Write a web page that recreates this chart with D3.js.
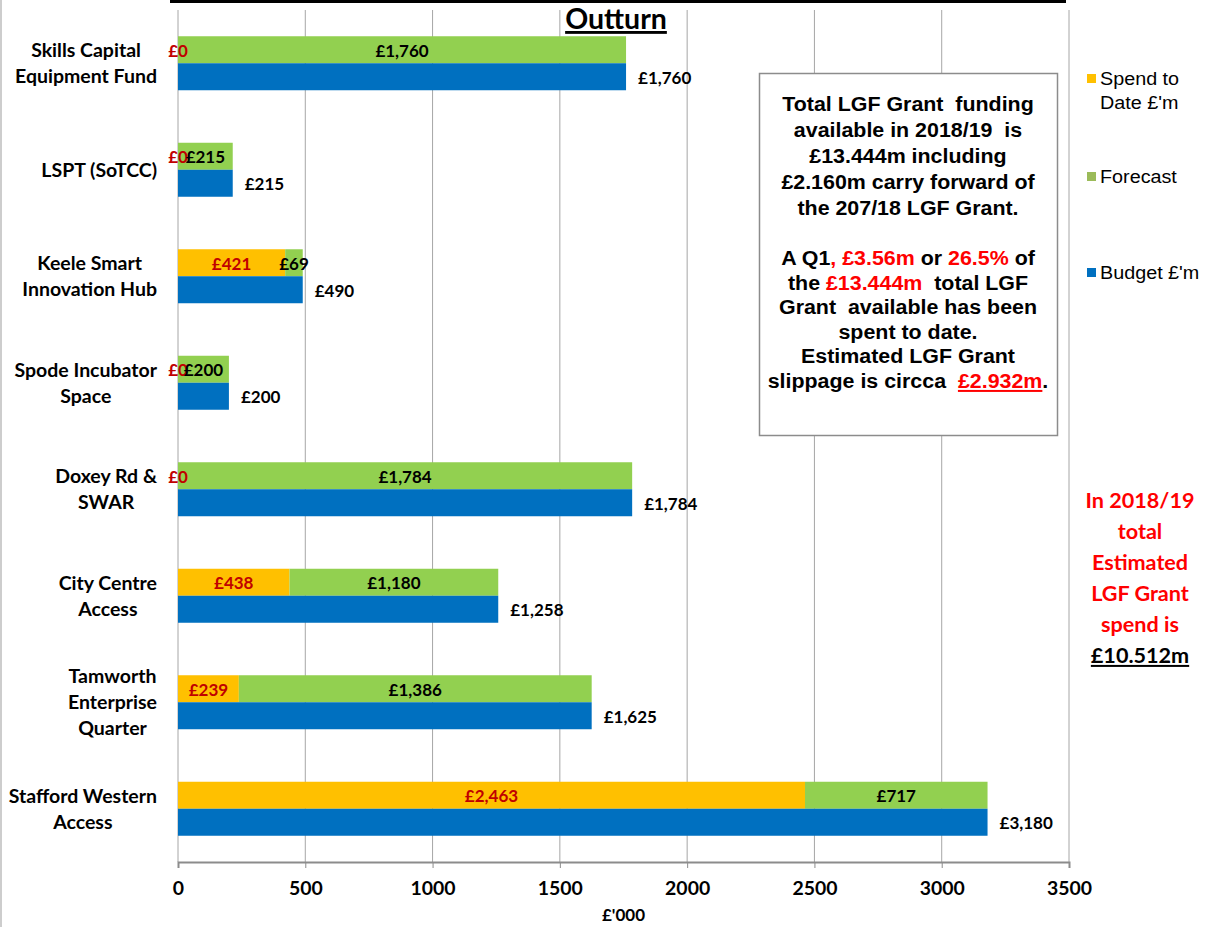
<!DOCTYPE html>
<html><head><meta charset="utf-8">
<script src="https://cdn.jsdelivr.net/npm/d3@7"></script>
<style>
body{margin:0;background:#fff;}
svg{display:block;}
</style></head>
<body>
<svg id="chart" width="1208" height="927"></svg>
<script>
const categories = [
  ["Skills Capital","Equipment Fund"],
  ["LSPT (SoTCC)"],
  ["Keele Smart","Innovation Hub"],
  ["Spode Incubator","Space"],
  ["Doxey Rd &","SWAR"],
  ["City Centre","Access"],
  ["Tamworth","Enterprise","Quarter"],
  ["Stafford Western","Access"]
];
const spend    = [0, 0, 421, 0, 0, 438, 239, 2463];
const forecast = [1760, 215, 69, 200, 1784, 820, 1386, 717];
const forecastLabels = ["£1,760","£215","£69","£200","£1,784","£1,180","£1,386","£717"];
const budget   = [1760, 215, 490, 200, 1784, 1258, 1625, 3180];
const xTicks = [0, 500, 1000, 1500, 2000, 2500, 3000, 3500];
const seriesNames = ["Spend to|Date £'m", "Forecast", "Budget £'m"];
const colors = {spend:"#FFC000", forecast:"#92D050", budget:"#0070C0"};

const svg = d3.select("#chart");
const fmt = d3.format(",");
const keys = categories.map((c,i)=>i);

const x = d3.scaleLinear().domain([0,3500]).range([178,1069]);
const y = d3.scaleBand().domain(keys).range([10,862]);
const sub = d3.scaleBand().domain(["stack","budget"]).range([0,y.bandwidth()])
  .paddingInner(0).paddingOuter((y.bandwidth()/27 - 2)/2);

// helper: text horizontally stretched around its anchor point
function stext(parent, px, py, sx){
  return parent.append("text").attr("transform",`translate(${px},${py}) scale(${sx},1)`).attr("x",0).attr("y",0);
}

// outer frame bits
svg.append("line").attr("x1",1).attr("x2",1).attr("y1",0).attr("y2",927).attr("stroke","#bdbdbd").attr("stroke-width",1.5);
svg.append("line").attr("x1",170).attr("x2",1066).attr("y1",1.5).attr("y2",1.5).attr("stroke","#000").attr("stroke-width",3);

// gridlines
svg.append("g").selectAll("line").data(xTicks).join("line")
  .attr("x1",d=>x(d)).attr("x2",d=>x(d)).attr("y1",10).attr("y2",862)
  .attr("stroke","#a6a6a6").attr("stroke-width",1);

// axis
const axis = svg.append("g").attr("transform","translate(0,862)")
  .call(d3.axisBottom(x).tickValues(xTicks).tickSize(6).tickPadding(12).tickFormat(d=>d));
axis.select(".domain").attr("stroke","#8c8c8c").attr("stroke-width",2);
axis.selectAll(".tick line").attr("stroke","#8c8c8c");
axis.selectAll(".tick text").attr("font-family","Lato").attr("font-weight","bold").attr("font-size",18)
  .attr("fill","#000").attr("dy","0.85em").attr("transform","scale(1.08,1)");
svg.append("text").attr("x",x(1750)).attr("y",921).attr("text-anchor","middle")
  .attr("font-family","Lato").attr("font-weight","bold").attr("font-size",17).text("£'000");

// bars
const g = svg.append("g");
const lblFont = 17;
keys.forEach(i=>{
  const yTop = y(i)+sub("stack"), yBot = y(i)+sub("budget"), h = sub.bandwidth();
  g.append("rect").attr("x",x(0)).attr("y",yTop).attr("width",x(spend[i])-x(0)).attr("height",h).attr("fill",colors.spend);
  g.append("rect").attr("x",x(spend[i])).attr("y",yTop).attr("width",x(spend[i]+forecast[i])-x(spend[i])).attr("height",h).attr("fill",colors.forecast);
  g.append("rect").attr("x",x(0)).attr("y",yBot).attr("width",x(budget[i])-x(0)).attr("height",h).attr("fill",colors.budget);
  // labels
  g.append("text").attr("x",x(spend[i]/2)).attr("y",yTop+h/2+7).attr("text-anchor","middle")
    .attr("font-family","Lato").attr("font-weight","bold").attr("font-size",lblFont).attr("fill","#C00000")
    .text("£"+fmt(spend[i]));
  g.append("text").attr("x",x(spend[i]+forecast[i]/2)).attr("y",yTop+h/2+7).attr("text-anchor","middle")
    .attr("font-family","Lato").attr("font-weight","bold").attr("font-size",lblFont).attr("fill","#000")
    .text(forecastLabels[i]);
  g.append("text").attr("x",x(budget[i])+12).attr("y",yBot+h/2+7).attr("text-anchor","start")
    .attr("font-family","Lato").attr("font-weight","bold").attr("font-size",lblFont).attr("fill","#000")
    .text("£"+fmt(budget[i]));
});

// category labels
keys.forEach(i=>{
  const lines = categories[i];
  const t = svg.append("text").attr("font-family","Lato").attr("font-weight","bold").attr("font-size",19.5).attr("fill","#000").attr("text-anchor","middle");
  const cy = y(i)+y.bandwidth()/2;
  const lh = 26;
  const spans = lines.map((l,k)=> t.append("tspan").attr("y", cy + (k-(lines.length-1)/2)*lh + 7).text(l));
  let maxW = 0;
  spans.forEach(s=>{ maxW = Math.max(maxW, s.node().getComputedTextLength()); });
  spans.forEach(s=> s.attr("x", 157 - maxW/2));
});

// title
svg.append("text").attr("x",616).attr("y",29).attr("text-anchor","middle")
  .attr("font-family","Lato").attr("font-weight","bold").attr("font-size",28.5)
  .attr("text-decoration","underline").text("Outturn");

// text box
svg.append("rect").attr("x",759.5).attr("y",73.5).attr("width",298).attr("height",362)
  .attr("fill","#fff").attr("stroke","#8c8c8c").attr("stroke-width",1.5);
const boxLines = [
  [["Total LGF Grant  funding","#000"]],
  [["available in 2018/19  is","#000"]],
  [["£13.444m including","#000"]],
  [["£2.160m carry forward of","#000"]],
  [["the 207/18 LGF Grant.","#000"]],
  null,
  [["A Q1","#000"],[", £3.56m","#FF0000"],[" or ","#000"],["26.5%","#FF0000"],[" of","#000"]],
  [["the ","#000"],["£13.444m","#FF0000"],["  total LGF","#000"]],
  [["Grant  available has been","#000"]],
  [["spent to date.","#000"]],
  [["Estimated LGF Grant","#000"]],
  [["slippage is circca  ","#000"],["£2.932m","#FF0000",true],[".","#000"]]
];
const boxY = [111,137,163,189,215,null,265,290,314,339,363,388];
boxLines.forEach((segs,k)=>{
  if(!segs) return;
  const t = stext(svg, 908, boxY[k], 1.07).attr("text-anchor","middle")
    .attr("font-family","Liberation Sans").attr("font-weight","bold").attr("font-size",20)
    .style("white-space","pre").attr("xml:space","preserve");
  segs.forEach(s=>{
    const ts = t.append("tspan").attr("fill",s[1]).text(s[0]);
    if(s[2]) ts.attr("text-decoration","underline");
  });
});

// legend
const legY = [79, 177, 273];
const legColors = [colors.spend, "#9BBB59", colors.budget];
seriesNames.forEach((n,k)=>{
  svg.append("rect").attr("x",1087).attr("y",legY[k]-5).attr("width",9).attr("height",9).attr("fill",legColors[k]);
  n.split("|").forEach((l,j)=>{
    stext(svg, 1100, legY[k]+6+j*24, 1.13).attr("font-family","Liberation Sans").attr("font-size",17.5).attr("fill","#000").text(l);
  });
});

// right note
const noteLines = ["In 2018/19","total","Estimated","LGF Grant","spend is","£10.512m"];
noteLines.forEach((l,k)=>{
  const last = k===noteLines.length-1;
  stext(svg, 1140, 508+k*31, 1.08).attr("text-anchor","middle")
    .attr("font-family","Lato").attr("font-weight","bold").attr("font-size",20)
    .attr("fill", last?"#000":"#FF0000").attr("text-decoration", last?"underline":null).text(l);
});
</script>
</body></html>
